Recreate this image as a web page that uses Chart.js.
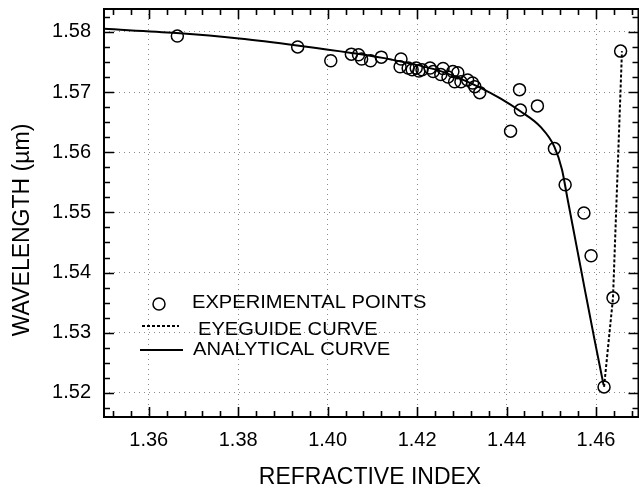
<!DOCTYPE html>
<html>
<head>
<meta charset="utf-8">
<script src="https://cdn.jsdelivr.net/npm/chart.js@4.4.0/dist/chart.umd.min.js"></script>
<style>
  html, body { margin: 0; padding: 0; background: #fff; overflow: hidden; }
  #wrap { width: 646px; height: 494px; }
</style>
</head>
<body>
<div id="wrap"><canvas id="chart" width="646" height="494"></canvas></div>
<script>
// experimental points (refractive index, wavelength in um)
const expX = [1.3664, 1.3933, 1.4007, 1.4053, 1.4069, 1.4076, 1.4096, 1.4120, 1.4164, 1.4162,
  1.4180, 1.4189, 1.4198, 1.4204, 1.4211, 1.4229, 1.4236, 1.4258, 1.4253, 1.4269,
  1.4280, 1.4291, 1.4284, 1.4298, 1.4313, 1.4324, 1.4329, 1.4340, 1.4429, 1.4431,
  1.4469, 1.4409, 1.4507, 1.4531, 1.4573, 1.4589, 1.4638, 1.4618, 1.4655];
const expY = [1.5793, 1.5775, 1.5752, 1.5763, 1.5762, 1.5755, 1.5752, 1.5758, 1.5755, 1.5742,
  1.5740, 1.5737, 1.5740, 1.5735, 1.5737, 1.5740, 1.5734, 1.5739, 1.5729, 1.5725,
  1.5734, 1.5732, 1.5717, 1.5717, 1.5720, 1.5715, 1.5709, 1.5699, 1.5704, 1.5670,
  1.5677, 1.5635, 1.5606, 1.5546, 1.5499, 1.5428, 1.5358, 1.5210, 1.5768];

// eyeguide (dotted)
const eyeX = [1.4618, 1.4638, 1.4658];
const eyeY = [1.5210, 1.5358, 1.5768];

// analytical curve (solid)
const anaX = [1.3500, 1.3662, 1.3802, 1.3936, 1.4053, 1.4142, 1.4247, 1.4291, 1.4342, 1.4387,
  1.4431, 1.4476, 1.4507, 1.4524, 1.4536, 1.4556, 1.4576, 1.4596, 1.4617];
const anaY = [1.5805, 1.5798, 1.5789, 1.5777, 1.5765, 1.5754, 1.5736, 1.5724, 1.5707, 1.5689,
  1.5668, 1.5642, 1.5609, 1.5571, 1.5524, 1.5446, 1.5368, 1.5291, 1.5213];

const xTicks = [1.36, 1.38, 1.40, 1.42, 1.44, 1.46];
const yTicks = [1.52, 1.53, 1.54, 1.55, 1.56, 1.57, 1.58];
const legendLabels = ['EXPERIMENTAL POINTS', 'EYEGUIDE CURVE', 'ANALYTICAL CURVE'];
const xTitle = 'REFRACTIVE INDEX';
const yTitle = 'WAVELENGTH (\u00b5m)';

const FONT = '"Liberation Sans", Arial, sans-serif';

function pts(xs, ys) {
  return xs.map((x, i) => ({ x: x, y: ys[i] }));
}

function noPad(scale) {
  scale.paddingTop = 0;
  scale.paddingBottom = 0;
  scale.paddingLeft = 0;
  scale.paddingRight = 0;
}

// frame, inward ticks, titles and legend
const framePlugin = {
  id: 'frame',
  afterDraw(chart) {
    const ctx = chart.ctx;
    const a = chart.chartArea;
    const sx = chart.scales.x, sy = chart.scales.y;
    ctx.save();
    ctx.strokeStyle = '#000';
    ctx.lineWidth = 2;
    ctx.strokeRect(a.left, a.top, a.right - a.left, a.bottom - a.top);

    ctx.lineWidth = 1.6;
    ctx.beginPath();
    // x ticks, bottom and top
    for (let v = 1.352; v < sx.max; v += 0.004) {
      const px = Math.round(sx.getPixelForValue(v)) + 0.5;
      const major = xTicks.some(t => Math.abs(t - v) < 1e-6);
      const len = major ? 10 : 6;
      ctx.moveTo(px, a.bottom); ctx.lineTo(px, a.bottom - len);
      ctx.moveTo(px, a.top); ctx.lineTo(px, a.top + len);
    }
    // y ticks, left and right
    for (let v = 1.5175; v < sy.max; v += 0.0025) {
      const py = Math.round(sy.getPixelForValue(v)) + 0.5;
      const major = yTicks.some(t => Math.abs(t - v) < 1e-6);
      const len = major ? 10 : 6;
      ctx.moveTo(a.left, py); ctx.lineTo(a.left + len, py);
      ctx.moveTo(a.right, py); ctx.lineTo(a.right - len, py);
    }
    ctx.stroke();

    // axis titles
    ctx.fillStyle = '#000';
    ctx.font = '23px ' + FONT;
    ctx.textAlign = 'center';
    ctx.textBaseline = 'middle';
    ctx.fillText(xTitle, 370, 478);
    ctx.save();
    ctx.translate(23, 230);
    ctx.rotate(-Math.PI / 2);
    ctx.fillText(yTitle, 0, 0);
    ctx.restore();

    // legend
    const ds = chart.data.datasets;
    ctx.beginPath();
    ctx.lineWidth = ds[0].borderWidth;
    ctx.arc(159, 304, 6, 0, Math.PI * 2);
    ctx.stroke();

    ctx.lineWidth = ds[1].borderWidth;
    ctx.setLineDash(ds[1].borderDash);
    ctx.beginPath();
    ctx.moveTo(142, 326); ctx.lineTo(179, 326);
    ctx.stroke();
    ctx.setLineDash([]);

    ctx.lineWidth = ds[2].borderWidth;
    ctx.beginPath();
    ctx.moveTo(140, 350); ctx.lineTo(183, 350);
    ctx.stroke();

    ctx.font = '17.5px ' + FONT;
    ctx.textAlign = 'left';
    const rows = [[192, 303], [198, 330], [193, 350]];
    rows.forEach((r, i) => {
      ctx.save();
      ctx.translate(r[0], r[1]);
      ctx.scale(1.15, 1);
      ctx.fillText(legendLabels[i], 0, 0);
      ctx.restore();
    });
    ctx.restore();
  }
};

new Chart('chart', {
  type: 'scatter',
  data: {
    datasets: [
      {
        label: legendLabels[0],
        data: pts(expX, expY),
        showLine: false,
        pointStyle: 'circle',
        pointRadius: 6,
        pointBorderWidth: 1.5,
        borderWidth: 1.5,
        borderColor: '#000',
        backgroundColor: 'rgba(0,0,0,0)'
      },
      {
        label: legendLabels[1],
        data: pts(eyeX, eyeY),
        showLine: true,
        pointRadius: 0,
        borderColor: '#000',
        borderWidth: 2,
        borderDash: [3, 2]
      },
      {
        label: legendLabels[2],
        data: pts(anaX, anaY),
        showLine: true,
        pointRadius: 0,
        borderColor: '#000',
        borderWidth: 2,
        cubicInterpolationMode: 'monotone'
      }
    ]
  },
  options: {
    responsive: false,
    animation: false,
    devicePixelRatio: 1,
    layout: { padding: { top: 9, right: 4, left: 0, bottom: 0 } },
    plugins: {
      legend: { display: false },
      tooltip: { enabled: false }
    },
    scales: {
      x: {
        type: 'linear',
        min: 1.35,
        max: 1.4695,
        afterBuildTicks: (scale) => { scale.ticks = xTicks.map(v => ({ value: v })); },
        afterFit: (scale) => { scale.height = 77; noPad(scale); },
        grid: { color: '#8a8a8a', lineWidth: 1, drawTicks: false },
        border: { display: false, dash: [1, 4] },
        ticks: {
          padding: 11,
          color: '#000',
          font: { family: FONT, size: 20 },
          maxRotation: 0,
          callback: (v) => v.toFixed(2)
        }
      },
      y: {
        type: 'linear',
        min: 1.516,
        max: 1.5838,
        afterBuildTicks: (scale) => { scale.ticks = yTicks.map(v => ({ value: v })); },
        afterFit: (scale) => { scale.width = 104; noPad(scale); },
        grid: { color: '#8a8a8a', lineWidth: 1, drawTicks: false },
        border: { display: false, dash: [1, 4] },
        ticks: {
          padding: 13,
          color: '#000',
          font: { family: FONT, size: 20 },
          callback: (v) => v.toFixed(2)
        }
      }
    }
  },
  plugins: [framePlugin]
});
</script>
</body>
</html>
